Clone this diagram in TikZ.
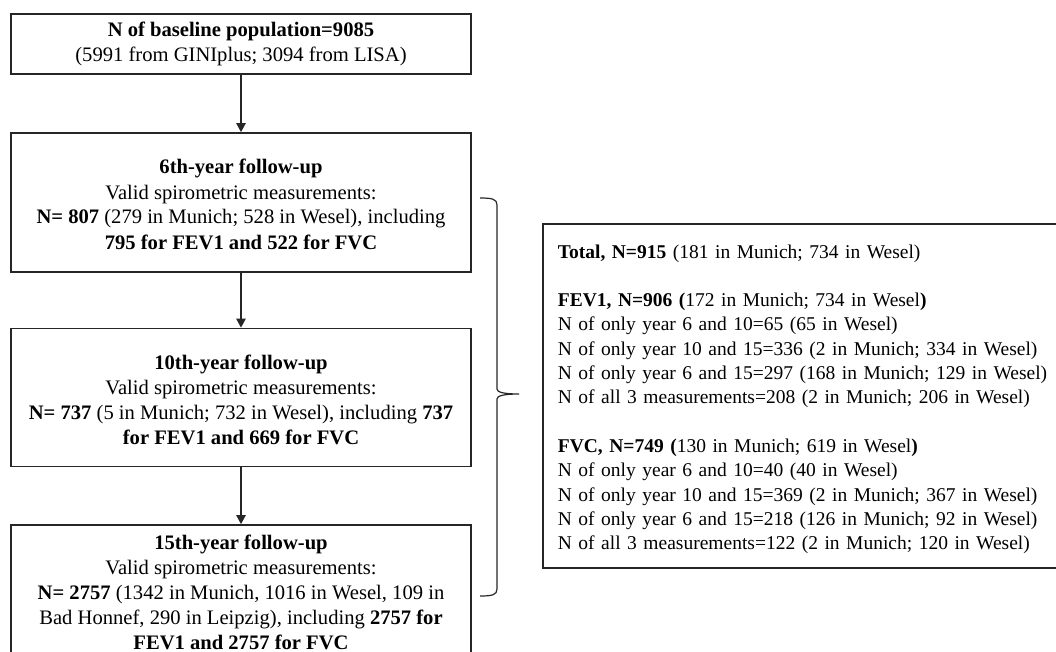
\documentclass[tikz,border=0pt]{standalone}
\usepackage{fontspec}
\setmainfont{Liberation Serif}
\usetikzlibrary{arrows.meta}
\newcommand\fsz{\fontsize{20.6}{25}\selectfont}
\newcommand\fsr{\fontsize{19.5}{24.3}\selectfont}
\newcommand\topstrut[1]{\rule{0pt}{#1pt}}
\newcommand\botstrut[1]{\rule[-#1pt]{0pt}{#1pt}}
\begin{document}
\begin{tikzpicture}[x=1pt,y=-1pt,
  box/.style={draw=black!85, line width=1.8pt, align=center, inner sep=0pt, minimum width=460pt, font=\fsz},
  rbox/.style={draw=black!85, line width=1.8pt, align=left, inner ysep=0pt, inner xsep=15pt, text width=500pt, font=\fsr},
  arr/.style={draw=black!85, line width=1.2pt, -{Triangle[length=9pt,width=9.5pt]}},
  bracestyle/.style={draw=black!85, line width=1.2pt}]
\useasboundingbox (0,0) rectangle (1056,652);
\clip (0,0) rectangle (1056,652);
\node[box, minimum height=60pt] (b1) at (241,44)
  {\topstrut{17}\textbf{N of baseline population=9085}\\(5991 from GINIplus; 3094 from LISA)\botstrut{6}};
\node[box, minimum height=139pt] (b2) at (241,202.5)
  {\topstrut{24}\textbf{6th-year follow-up}\\Valid spirometric measurements:\\\textbf{N= 807} (279 in Munich; 528 in Wesel), including\\\textbf{795 for FEV1 and 522 for FVC}\botstrut{6}};
\node[box, minimum height=138pt] (b3) at (241,397.5)
  {\topstrut{24}\textbf{10th-year follow-up}\\Valid spirometric measurements:\\\textbf{N= 737} (5 in Munich; 732 in Wesel), including \textbf{737}\\\textbf{for FEV1 and 669 for FVC}\botstrut{6}};
\node[box, minimum height=140pt] (b4) at (241,596)
  {\topstrut{24}\textbf{15th-year follow-up}\\Valid spirometric measurements:\\\textbf{N= 2757} (1342 in Munich, 1016 in Wesel, 109 in\\Bad Honnef, 290 in Leipzig), including \textbf{2757 for}\\\textbf{FEV1 and 2757 for FVC}\botstrut{18}};
\draw[arr] (b1) -- (b2);
\draw[arr] (b2) -- (b3);
\draw[arr] (b3) -- (b4);
\node[rbox, anchor=west, minimum height=344pt] (r) at (542,396)
  {\topstrut{21.6}\textbf{Total, N=915} (181 in Munich; 734 in Wesel)\\[24.3pt]
   \textbf{FEV1, N=906 (}172 in Munich; 734 in Wesel\textbf{)}\\
   N of only year 6 and 10=65 (65 in Wesel)\\
   N of only year 10 and 15=336 (2 in Munich; 334 in Wesel)\\
   N of only year 6 and 15=297 (168 in Munich; 129 in Wesel)\\
   N of all 3 measurements=208 (2 in Munich; 206 in Wesel)\\[24.3pt]
   \textbf{FVC, N=749 (}130 in Munich; 619 in Wesel\textbf{)}\\
   N of only year 6 and 10=40 (40 in Wesel)\\
   N of only year 10 and 15=369 (2 in Munich; 367 in Wesel)\\
   N of only year 6 and 15=218 (126 in Munich; 92 in Wesel)\\
   N of all 3 measurements=122 (2 in Munich; 120 in Wesel)\botstrut{6}};
\coordinate (btop) at (480,198);
\coordinate (bbot) at (480,596);
\coordinate (btip) at (519,394);
\draw[bracestyle] (btop) .. controls (492,198) and (497,199) .. (497,205) -- (497,389)
  .. controls (497,392) and (503,394) .. (btip)
  .. controls (503,394) and (497,396) .. (497,399) -- (497,589)
  .. controls (497,595) and (492,596) .. (bbot);
\end{tikzpicture}
\end{document}
